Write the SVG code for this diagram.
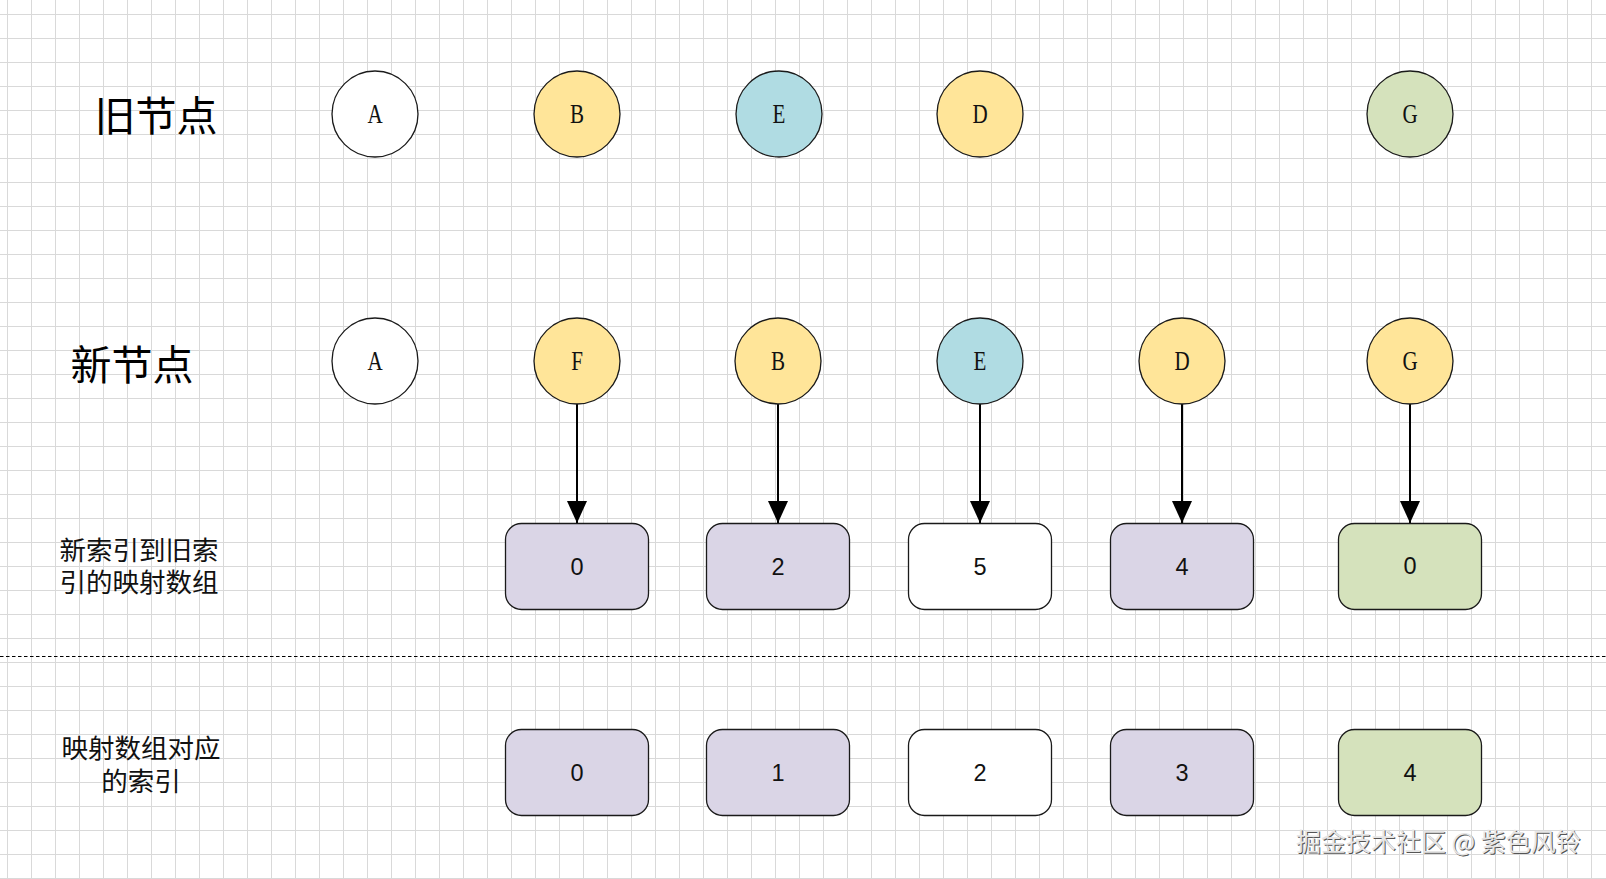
<svg xmlns="http://www.w3.org/2000/svg" width="1606" height="879" viewBox="0 0 1606 879">
<style>
.circ{stroke:#1a1a1a;stroke-width:1.3}
.box{stroke:#1a1a1a;stroke-width:1.3}
.cl{font-family:"Liberation Serif","Times New Roman",serif;font-size:27px;fill:#111;text-anchor:middle}
.num{font-family:"Liberation Sans",Arial,sans-serif;font-size:23.5px;fill:#111;text-anchor:middle}
.big{font-family:"Noto Sans CJK SC","Noto Sans",sans-serif;font-size:41px;fill:#000;text-anchor:middle}
.lbl{font-family:"Noto Sans CJK SC","Noto Sans",sans-serif;font-size:26.5px;fill:#111;text-anchor:middle}
.wm{font-family:"Noto Sans CJK SC","Liberation Sans",sans-serif;font-size:25px;text-anchor:start}
.yel{fill:#FFE599}.blu{fill:#B0DCE3}.grn{fill:#D5E2BC}.pur{fill:#DAD5E6}.wht{fill:#ffffff}
.conn line{stroke:#000;stroke-width:2}
</style>
<defs>
<pattern id="grid" x="7" y="14" width="24" height="24" patternUnits="userSpaceOnUse">
<path d="M0.5 0V24M0 0.5H24" stroke="#d9d9d9" stroke-width="1" fill="none"/>
</pattern>
<marker id="arr" markerUnits="userSpaceOnUse" markerWidth="22" markerHeight="24" refX="22" refY="10" orient="auto">
<path d="M0 0L22 10L0 20Z" fill="#000"/>
</marker>
</defs>
<rect width="1606" height="879" fill="#ffffff"/>
<rect width="1606" height="879" fill="url(#grid)"/>

<text class="big" x="156" y="131">旧节点</text>
<text class="big" x="132" y="380">新节点</text>
<text class="lbl" x="139" y="560">新索引到旧索</text>
<text class="lbl" x="139" y="592">引的映射数组</text>
<text class="lbl" x="141" y="758">映射数组对应</text>
<text class="lbl" x="141" y="791">的索引</text>

<line x1="0" y1="656.5" x2="1606" y2="656.5" stroke="#000" stroke-width="1.2" stroke-dasharray="3.5 2.5"/>

<g class="conn">
<line x1="577" y1="404" x2="577" y2="523" marker-end="url(#arr)"/>
<line x1="778" y1="404" x2="778" y2="523" marker-end="url(#arr)"/>
<line x1="980" y1="404" x2="980" y2="523" marker-end="url(#arr)"/>
<line x1="1182" y1="404" x2="1182" y2="523" marker-end="url(#arr)"/>
<line x1="1410" y1="404" x2="1410" y2="523" marker-end="url(#arr)"/>
</g>

<g id="old-A"><circle class="circ wht" cx="375" cy="114" r="43"/><text class="cl" transform="translate(375 123) scale(0.78 1)">A</text></g>
<g id="old-B"><circle class="circ yel" cx="577" cy="114" r="43"/><text class="cl" transform="translate(577 123) scale(0.78 1)">B</text></g>
<g id="old-E"><circle class="circ blu" cx="779" cy="114" r="43"/><text class="cl" transform="translate(779 123) scale(0.78 1)">E</text></g>
<g id="old-D"><circle class="circ yel" cx="980" cy="114" r="43"/><text class="cl" transform="translate(980 123) scale(0.78 1)">D</text></g>
<g id="old-G"><circle class="circ grn" cx="1410" cy="114" r="43"/><text class="cl" transform="translate(1410 123) scale(0.78 1)">G</text></g>

<g id="new-A"><circle class="circ wht" cx="375" cy="361" r="43"/><text class="cl" transform="translate(375 370) scale(0.78 1)">A</text></g>
<g id="new-F"><circle class="circ yel" cx="577" cy="361" r="43"/><text class="cl" transform="translate(577 370) scale(0.78 1)">F</text></g>
<g id="new-B"><circle class="circ yel" cx="778" cy="361" r="43"/><text class="cl" transform="translate(778 370) scale(0.78 1)">B</text></g>
<g id="new-E"><circle class="circ blu" cx="980" cy="361" r="43"/><text class="cl" transform="translate(980 370) scale(0.78 1)">E</text></g>
<g id="new-D"><circle class="circ yel" cx="1182" cy="361" r="43"/><text class="cl" transform="translate(1182 370) scale(0.78 1)">D</text></g>
<g id="new-G"><circle class="circ yel" cx="1410" cy="361" r="43"/><text class="cl" transform="translate(1410 370) scale(0.78 1)">G</text></g>

<g id="map-0"><rect class="box pur" x="505.5" y="523.5" width="143" height="86" rx="16"/><text class="num" x="577" y="575">0</text></g>
<g id="map-1"><rect class="box pur" x="706.5" y="523.5" width="143" height="86" rx="16"/><text class="num" x="778" y="575">2</text></g>
<g id="map-2"><rect class="box wht" x="908.5" y="523.5" width="143" height="86" rx="16"/><text class="num" x="980" y="575">5</text></g>
<g id="map-3"><rect class="box pur" x="1110.5" y="523.5" width="143" height="86" rx="16"/><text class="num" x="1182" y="575">4</text></g>
<g id="map-4"><rect class="box grn" x="1338.5" y="523.5" width="143" height="86" rx="16"/><text class="num" x="1410" y="574">0</text></g>

<g id="idx-0"><rect class="box pur" x="505.5" y="729.5" width="143" height="86" rx="16"/><text class="num" x="577" y="781">0</text></g>
<g id="idx-1"><rect class="box pur" x="706.5" y="729.5" width="143" height="86" rx="16"/><text class="num" x="778" y="781">1</text></g>
<g id="idx-2"><rect class="box wht" x="908.5" y="729.5" width="143" height="86" rx="16"/><text class="num" x="980" y="781">2</text></g>
<g id="idx-3"><rect class="box pur" x="1110.5" y="729.5" width="143" height="86" rx="16"/><text class="num" x="1182" y="781">3</text></g>
<g id="idx-4"><rect class="box grn" x="1338.5" y="729.5" width="143" height="86" rx="16"/><text class="num" x="1410" y="781">4</text></g>

<g id="watermark">
<text class="wm" x="1296" y="851" fill="#555" transform="translate(1 1)">掘金技术社区 @ 紫色风铃</text>
<text class="wm" x="1296" y="851" fill="#e6e6e6">掘金技术社区 @ 紫色风铃</text>
</g>
</svg>
